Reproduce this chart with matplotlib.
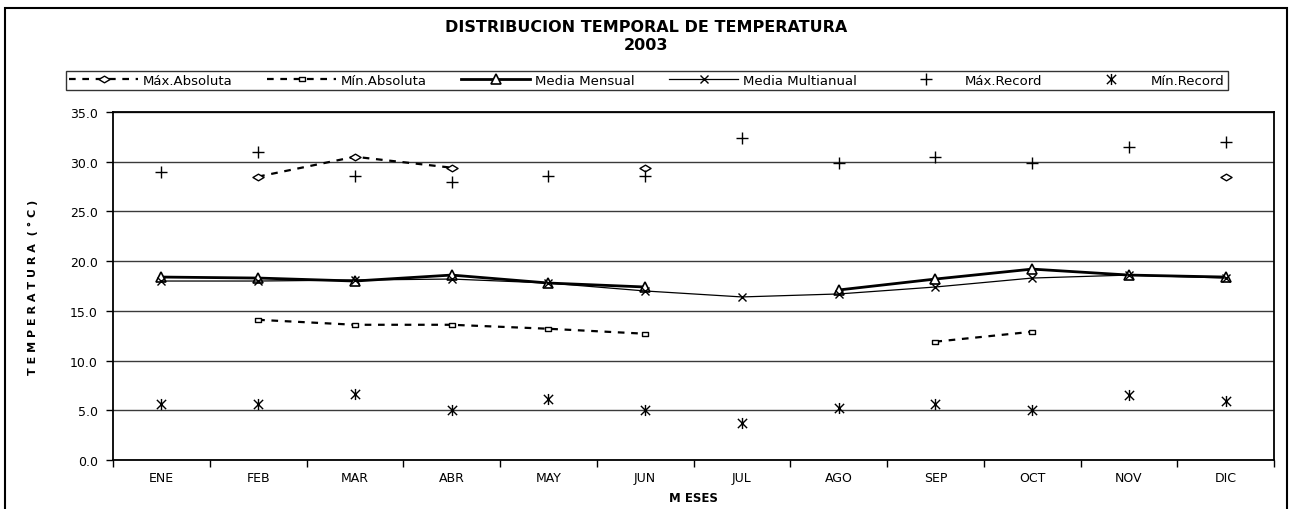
import numpy as np
import matplotlib
matplotlib.use("Agg")
import matplotlib.pyplot as plt
from matplotlib.path import Path
from matplotlib.patches import Rectangle

plt.rcParams['font.family'] = ['DejaVu Sans']

meses = ['ENE', 'FEB', 'MAR', 'ABR', 'MAY', 'JUN', 'JUL', 'AGO', 'SEP', 'OCT', 'NOV', 'DIC']
nan = np.nan

max_absoluta = [nan, 28.5, 30.5, 29.4, nan, 29.4, nan, nan, nan, nan, nan, 28.5]
min_absoluta = [nan, 14.1, 13.6, 13.6, 13.2, 12.7, nan, nan, 11.9, 12.9, nan, nan]
media_mensual = [18.4, 18.3, 18.0, 18.6, 17.8, 17.4, nan, 17.1, 18.2, 19.2, 18.6, 18.4]
media_multianual = [18.0, 18.0, 18.1, 18.2, 17.8, 17.0, 16.4, 16.7, 17.4, 18.3, 18.6, 18.3]
max_record = [29.0, 31.0, 28.6, 28.0, 28.6, 28.6, 32.4, 29.9, 30.5, 29.9, 31.5, 32.0]
min_record = [5.6, 5.6, 6.6, 5.0, 6.1, 5.0, 3.7, 5.2, 5.6, 5.0, 6.5, 5.9]

# asterisco tipo Excel: X con linea vertical
ast = Path([(-1, -1), (1, 1), (-1, 1), (1, -1), (0, -1.2), (0, 1.2)],
           [Path.MOVETO, Path.LINETO, Path.MOVETO, Path.LINETO, Path.MOVETO, Path.LINETO])
# rombo achatado
rombo = Path([(-1, 0), (0, 0.6), (1, 0), (0, -0.6), (-1, 0)],
             [Path.MOVETO, Path.LINETO, Path.LINETO, Path.LINETO, Path.CLOSEPOLY])
# cuadro achatado
cuadro = Path([(-1, -0.7), (1, -0.7), (1, 0.7), (-1, 0.7), (-1, -0.7)],
              [Path.MOVETO, Path.LINETO, Path.LINETO, Path.LINETO, Path.CLOSEPOLY])

fig = plt.figure(figsize=(12.92, 5.10), dpi=100)
ax = fig.add_axes([113 / 1292, 1 - 461 / 510, (1274 - 113) / 1292, (461 - 113) / 510])

x = np.arange(len(meses))

ax.plot(x, max_absoluta, color='black', lw=1.6, dashes=(3, 3), marker=rombo, ms=8,
        mfc='white', mec='black', mew=1, label='Máx.Absoluta')
ax.plot(x, min_absoluta, color='black', lw=1.6, dashes=(3, 3), marker=cuadro, ms=5,
        mfc='white', mec='black', mew=1, label='Mín.Absoluta')
ax.plot(x, media_mensual, color='black', lw=2, marker='^', ms=7.5,
        mfc='white', mec='black', mew=1.2, label='Media Mensual')
ax.plot(x, media_multianual, color='black', lw=0.9, marker='x', ms=6,
        mec='black', mew=1, label='Media Multianual')
ax.plot(x, max_record, ls='none', marker='+', ms=8.5, mec='black', mew=1,
        label='Máx.Record')
ax.plot(x, min_record, ls='none', marker=ast, ms=8, mec='black', mew=1,
        label='Mín.Record')

ax.set_xlim(-0.5, 11.5)
ax.set_ylim(0, 35)
ax.set_yticks(np.arange(0, 35.1, 5))
ax.set_yticklabels(['%.1f' % v for v in np.arange(0, 35.1, 5)], fontsize=9)
ax.yaxis.grid(True, color='#3a3a3a', lw=1)
ax.set_axisbelow(True)

ax.set_xticks(np.arange(-0.5, 12, 1))
ax.set_xticklabels([])
ax.set_xticks(x, minor=True)
ax.set_xticklabels(meses, minor=True, fontsize=9)
ax.tick_params(axis='x', which='major', length=5, direction='out', width=1)
ax.tick_params(axis='x', which='minor', length=0, pad=8)
ax.tick_params(axis='y', length=5, direction='out', width=1, pad=6)
for s in ax.spines.values():
    s.set_linewidth(1.3)
    s.set_color('black')

ax.set_xlabel('M ESES', fontsize=8.5, fontweight='bold')
ax.xaxis.set_label_coords(0.5, (461 - 492) / 348)
ax.set_ylabel('T E M P E R A T U R A  ( ° C )', fontsize=8, fontweight='bold')
ax.yaxis.set_label_coords((38 - 113) / 1161, 0.5)

fig.text(0.5, 1 - 28 / 510, 'DISTRIBUCION TEMPORAL DE TEMPERATURA', ha='center', va='center',
         fontsize=11.5, fontweight='bold')
fig.text(0.5, 1 - 45 / 510, '2003', ha='center', va='center', fontsize=11.5, fontweight='bold')

leg = fig.legend(loc='center', ncol=6, bbox_to_anchor=(66 / 1292, 1 - 92 / 510, (1228 - 66) / 1292, 21 / 510),
                 mode='expand', frameon=True, fancybox=False, fontsize=9.5, handlelength=5.2,
                 handletextpad=0.4, borderpad=0.25, borderaxespad=0, columnspacing=1.0)
leg.get_frame().set_edgecolor('black')
leg.get_frame().set_linewidth(1)

fig.patches.append(Rectangle((5 / 1292, -0.05), (1287 - 5) / 1292, 1 - 9 / 510 + 0.05,
                             transform=fig.transFigure, fill=False, ec='black', lw=1.5))

fig.savefig('out.png', dpi=100)
